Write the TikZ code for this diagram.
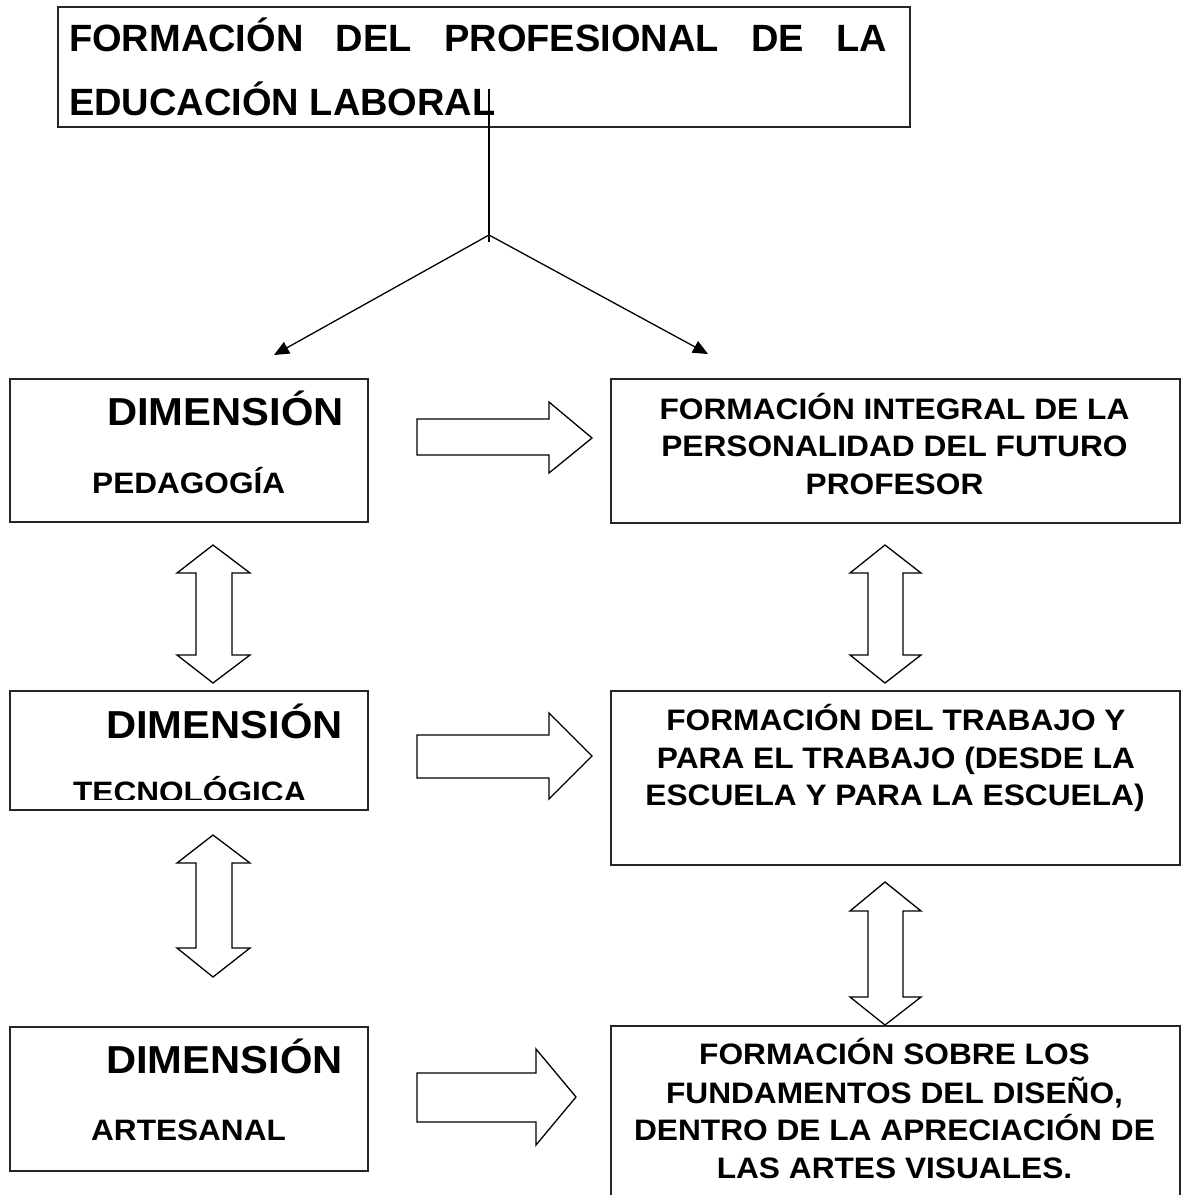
\documentclass[tikz,border=0pt]{standalone}
\usepackage{fontspec}
\setmainfont{Liberation Sans}
\newfontfamily\boxfont[FakeStretch=1.07]{Liberation Sans}
\usetikzlibrary{arrows.meta}
\tikzset{
  box/.style={draw=black!85, line width=1.8pt, inner sep=0pt, anchor=north west},
  lbl/.style={inner sep=0pt},
  titlefont/.style={font=\fontsize{38}{64}\selectfont\bfseries},
  dimfont/.style={font=\boxfont\bfseries\fontsize{39}{45}\selectfont},
  subfont/.style={font=\boxfont\bfseries\fontsize{29.5}{36}\selectfont},
  rfont/.style={font=\boxfont\bfseries\fontsize{29.6}{38}\selectfont},
  conn/.style={line width=1.3pt, -{Triangle[length=15pt,width=13pt]}},
  blockarrow/.style={draw=black, line width=1.3pt, fill=white, line join=miter}
}
\newcommand{\dblarrowv}[6]{% cx, halfhead, halfshaft, toptip, topbase, lowbase, (bottom tip = #6)
}
\begin{document}
\begin{tikzpicture}[x=1pt,y=-1pt]
\clip (0,0) rectangle (1182,1195);
\fill[white] (0,0) rectangle (1182,1195);

% title box
\node[box, minimum width=852pt, minimum height=120pt] (title) at (57,6) {};
\node[lbl, titlefont, anchor=base west] (t1) at (69,51)
  {\makebox[818pt][s]{FORMACIÓN\hfill DEL\hfill PROFESIONAL\hfill DE\hfill LA}};
\node[lbl, titlefont, anchor=base west] (t2) at (69,115) {EDUCACIÓN LABORAL};

% connectors from title
\coordinate (vtop) at (489,89);
\coordinate (junc) at (489,235);
\coordinate (vbot) at (489,242);
\coordinate (tipL) at (274,355);
\coordinate (tipR) at (708,354);
\draw[line width=1.3pt] (vtop) -- (vbot);
\draw[conn] (junc) -- (tipL);
\draw[conn] (junc) -- (tipR);

% left boxes
\node[box, minimum width=358pt, minimum height=143pt] (L1) at (9,378) {};
\node[box, minimum width=358pt, minimum height=119pt] (L2) at (9,690) {};
\node[box, minimum width=358pt, minimum height=144pt] (L3) at (9,1026) {};

\node[lbl, dimfont, anchor=base west] (L1a) at (107,425) {DIMENSIÓN};
\node[lbl, subfont, anchor=base west] (L1b) at (92,493) {PEDAGOGÍA};
\node[lbl, dimfont, anchor=base west] (L2a) at (106,738) {DIMENSIÓN};
\begin{scope}
  \clip (0,0) rectangle (1182,799);
  \node[lbl, subfont, anchor=base west] (L2b) at (73,802) {TECNOLÓGICA};
\end{scope}
\node[lbl, dimfont, anchor=base west] (L3a) at (106,1073) {DIMENSIÓN};
\node[lbl, subfont, anchor=base west] (L3b) at (91,1140) {ARTESANAL};

% right boxes
\node[box, minimum width=569pt, minimum height=144pt] (R1) at (610,378) {};
\node[box, minimum width=569pt, minimum height=174pt] (R2) at (610,690) {};
\node[box, minimum width=569pt, minimum height=220pt] (R3) at (610,1025) {};

\node[lbl, rfont, anchor=base] (R1a) at (894.5,419) {FORMACIÓN INTEGRAL DE LA};
\node[lbl, rfont, anchor=base] (R1b) at (894.5,456) {PERSONALIDAD DEL FUTURO};
\node[lbl, rfont, anchor=base] (R1c) at (894.5,494) {PROFESOR};

\node[lbl, rfont, anchor=base] (R2a) at (896,730) {FORMACIÓN DEL TRABAJO Y};
\node[lbl, rfont, anchor=base] (R2b) at (896,768) {PARA EL TRABAJO (DESDE LA};
\node[lbl, rfont, anchor=base] (R2c) at (895,805) {ESCUELA Y PARA LA ESCUELA)};

\node[lbl, rfont, anchor=base] (R3a) at (894.5,1064) {FORMACIÓN SOBRE LOS};
\node[lbl, rfont, anchor=base] (R3b) at (894.5,1103) {FUNDAMENTOS DEL DISEÑO,};
\node[lbl, rfont, anchor=base] (R3c) at (894.5,1140) {DENTRO DE LA APRECIACIÓN DE};
\node[lbl, rfont, anchor=base] (R3d) at (894.5,1178) {LAS ARTES VISUALES.};

% horizontal block arrows
\draw[blockarrow] (417,419) -- (549,419) -- (549,402) -- (592,438) -- (549,473) -- (549,455) -- (417,455) -- cycle;
\draw[blockarrow] (417,735) -- (549,735) -- (549,713) -- (592,756) -- (549,799) -- (549,778) -- (417,778) -- cycle;
\draw[blockarrow] (417,1073) -- (536,1073) -- (536,1049) -- (576,1097) -- (536,1145) -- (536,1122) -- (417,1122) -- cycle;

% vertical double block arrows (left)
\draw[blockarrow] (213,545) -- (250,573) -- (232,573) -- (232,655) -- (250,655) -- (213,683) -- (177,655) -- (196,655) -- (196,573) -- (177,573) -- cycle;
\draw[blockarrow] (213,835) -- (250,863) -- (232,863) -- (232,948) -- (250,948) -- (213,977) -- (177,948) -- (196,948) -- (196,863) -- (177,863) -- cycle;
% vertical double block arrows (right)
\draw[blockarrow] (885,545) -- (921,573) -- (903,573) -- (903,655) -- (921,655) -- (885,683) -- (850,655) -- (868,655) -- (868,573) -- (850,573) -- cycle;
\draw[blockarrow] (885,882) -- (921,911) -- (903,911) -- (903,997) -- (921,997) -- (885,1025) -- (850,997) -- (868,997) -- (868,911) -- (850,911) -- cycle;
\end{tikzpicture}
\end{document}
